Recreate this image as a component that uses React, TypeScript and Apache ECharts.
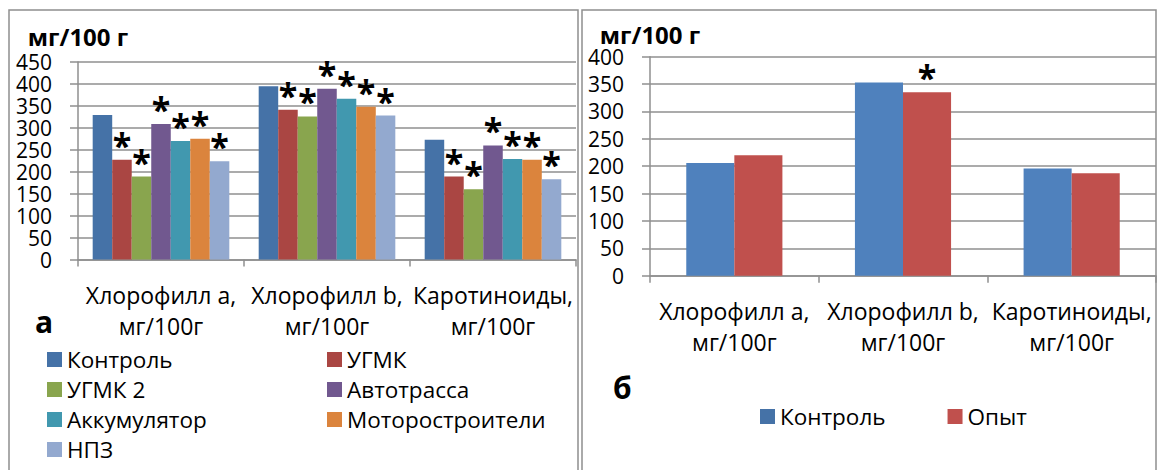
import React, { useEffect, useRef } from "react";
import * as echarts from "echarts";

// Categories shared by both panels
const categories = ["Хлорофилл a,\nмг/100г", "Хлорофилл b,\nмг/100г", "Каротиноиды,\nмг/100г"];

// Panel "а": pigment content by site, mg/100 g
const sitesA = ["Контроль", "УГМК", "УГМК 2", "Автотрасса", "Аккумулятор", "Моторостроители", "НПЗ"];
const control = [329, 395, 273];
const ugmk = [227, 341, 189];
const ugmk2 = [189, 326, 160];
const highway = [309, 389, 260];
const battery = [270, 366, 229];
const motorBuilders = [275, 348, 227];
const refinery = [224, 328, 183];
// significance marks (asterisk) per series of panel "а"
const sigControl = [false, false, false];
const sigUgmk = [true, true, true];
const sigUgmk2 = [true, true, true];
const sigHighway = [true, true, true];
const sigBattery = [true, true, true];
const sigMotor = [true, true, true];
const sigRefinery = [true, true, true];

// Panel "б": control vs experiment
const groupsB = ["Контроль", "Опыт"];
const controlB = [206, 353, 196];
const experimentB = [220, 335, 187];
const sigControlB = [false, false, false];
const sigExperimentB = [false, true, false];

// Axis ticks
const yTicksA = { min: 0, max: 450, interval: 50 };
const yTicksB = { min: 0, max: 400, interval: 50 };

const colorsA = ["#4572A7", "#AA4643", "#89A54E", "#71588F", "#4198AF", "#DB843D", "#93A9CF"];
const colorsB = ["#4F81BD", "#C0504D"];

const FONT = "'Open Sans', sans-serif";
const GRID_COLOR = "#8f8f8f";

export default function App() {
  const ref = useRef<HTMLDivElement>(null);

  useEffect(() => {
    if (!ref.current) return;
    const chart = echarts.init(ref.current, null, { renderer: "svg" });

    const valuesA = [control, ugmk, ugmk2, highway, battery, motorBuilders, refinery];
    const sigA = [sigControl, sigUgmk, sigUgmk2, sigHighway, sigBattery, sigMotor, sigRefinery];
    const valuesB = [controlB, experimentB];
    const sigB = [sigControlB, sigExperimentB];

    const starLabel = (flags: boolean[]) => ({
      show: true,
      position: "top",
      distance: 0,
      formatter: (p: any) => (flags[p.dataIndex] ? "*" : ""),
      fontSize: 34,
      lineHeight: 30,
      fontWeight: "bold",
      fontFamily: FONT,
      color: "#000",
    });

    const xAxisBase = (gridIndex: number) => ({
      type: "category",
      gridIndex,
      data: categories,
      boundaryGap: true,
      axisLine: { show: true, lineStyle: { color: GRID_COLOR, width: 1.5 } },
      axisTick: { show: true, length: 7, lineStyle: { color: GRID_COLOR, width: 1.5 } },
      axisLabel: {
        interval: 0,
        margin: 20,
        fontSize: 23,
        lineHeight: 31,
        fontFamily: FONT,
        color: "#000",
      },
    });

    const yAxisBase = (gridIndex: number, t: any, nameGap: number) => ({
      type: "value",
      gridIndex,
      min: t.min,
      max: t.max,
      interval: t.interval,
      name: "мг/100 г",
      nameLocation: "end",
      nameGap,
      nameTextStyle: {
        fontSize: 24,
        fontWeight: "bold",
        fontFamily: FONT,
        color: "#000",
        verticalAlign: "middle",
        align: "center",
      },
      axisLine: { show: true, lineStyle: { color: GRID_COLOR, width: 1.5 } },
      axisTick: { show: true, length: 8, lineStyle: { color: GRID_COLOR, width: 1.5 } },
      splitLine: { show: true, lineStyle: { color: GRID_COLOR, width: 1.5 } },
      axisLabel: {
        margin: 26,
        fontSize: 21,
        lineHeight: 18,
        fontFamily: FONT,
        color: "#000",
      },
    });

    const seriesA = sitesA.map((name, i) => ({
      name,
      type: "bar",
      xAxisIndex: 0,
      yAxisIndex: 0,
      data: valuesA[i],
      barGap: "0%",
      barCategoryGap: "17.7%",
      itemStyle: { color: colorsA[i] },
      label: starLabel(sigA[i]),
    }));

    const seriesB = groupsB.map((name, i) => ({
      name,
      type: "bar",
      xAxisIndex: 1,
      yAxisIndex: 1,
      data: valuesB[i],
      barGap: "0%",
      barCategoryGap: "43%",
      itemStyle: { color: colorsB[i] },
      label: starLabel(sigB[i]),
    }));

    const legendText = { fontSize: 22.5, lineHeight: 22, fontFamily: FONT, color: "#000" };
    const legendBase = {
      itemWidth: 15,
      itemHeight: 15,
      itemGap: 7,
      padding: 0,
      icon: "rect",
      textStyle: legendText,
    };

    chart.setOption({
      animation: false,
      backgroundColor: "#fff",
      textStyle: { fontFamily: FONT },
      grid: [
        { left: 78, right: 581, top: 62, bottom: 210.5, containLabel: false },
        { left: 650, right: 1, top: 56.7, bottom: 194.3, containLabel: false },
      ],
      xAxis: [xAxisBase(0), xAxisBase(1)],
      yAxis: [yAxisBase(0, yTicksA, 26), yAxisBase(1, yTicksB, 22)],
      legend: [
        {
          ...legendBase,
          orient: "vertical",
          left: 47,
          top: 348,
          height: 118,
          data: [sitesA[0], sitesA[2], sitesA[4], sitesA[6]],
        },
        {
          ...legendBase,
          orient: "vertical",
          left: 327,
          top: 348,
          height: 118,
          data: [sitesA[1], sitesA[3], sitesA[5]],
        },
        {
          ...legendBase,
          orient: "horizontal",
          left: 760,
          top: 405,
          itemGap: 62,
          data: groupsB,
        },
      ],
      graphic: [
        {
          type: "rect",
          shape: { x: 9, y: 10, width: 569, height: 480 },
          style: { fill: "none", stroke: GRID_COLOR, lineWidth: 1.5 },
          silent: true,
        },
        {
          type: "rect",
          shape: { x: 582, y: 10, width: 574, height: 480 },
          style: { fill: "none", stroke: GRID_COLOR, lineWidth: 1.5 },
          silent: true,
        },
        {
          type: "text",
          left: 35,
          top: 306,
          style: { text: "а", fontSize: 30, fontWeight: "bold", fontFamily: FONT, fill: "#000" },
        },
        {
          type: "text",
          left: 613,
          top: 372,
          style: { text: "б", fontSize: 30, fontWeight: "bold", fontFamily: FONT, fill: "#000" },
        },
      ],
      series: [...seriesA, ...seriesB],
    });

    return () => chart.dispose();
  }, []);

  return (
    <div
      ref={ref}
      style={{ position: "fixed", left: 0, top: 0, width: 1157, height: 470, background: "#fff" }}
    />
  );
}
